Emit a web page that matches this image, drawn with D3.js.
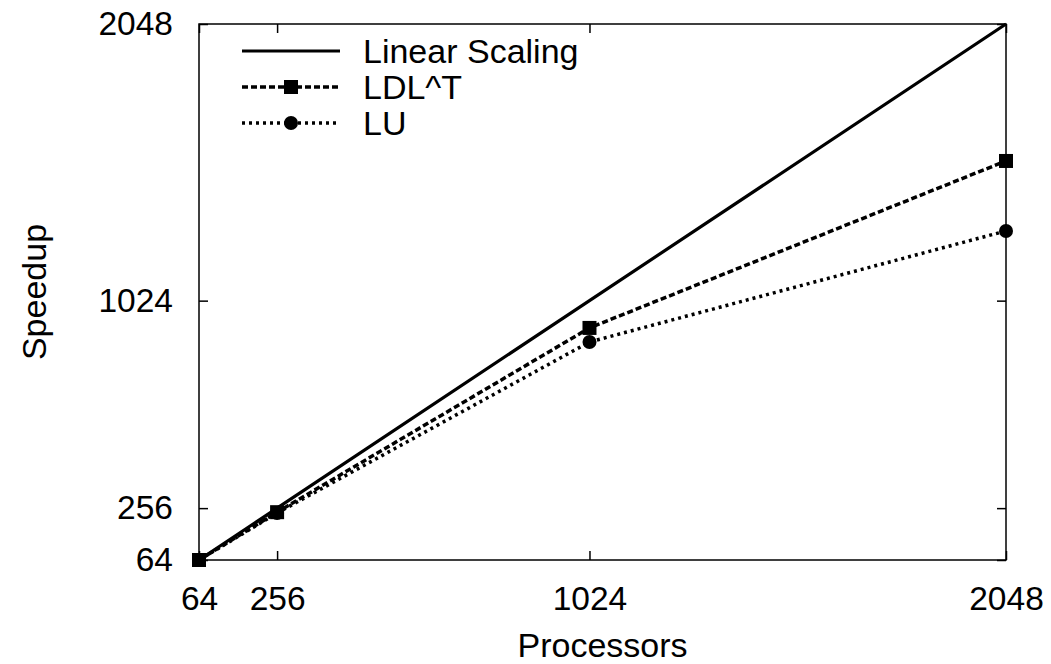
<!DOCTYPE html>
<html>
<head>
<meta charset="utf-8">
<script src="https://cdn.jsdelivr.net/npm/d3@7"></script>
<style>
  body { margin: 0; background: #fff; }
  svg text { font-family: "Liberation Sans", Arial, Helvetica, sans-serif; fill: #000; }
</style>
</head>
<body>
<div id="chart"></div>
<script>
const W = 1051;
const H = 664;
const M = { left: 199, right: 45, top: 24, bottom: 104 };

const procs = [64, 256, 1024, 2048];
const tickVals = [64, 256, 1024, 2048];
const linear = [64, 256, 1024, 2048];
const ldlt = [64, 241, 923, 1541];
const lu = [64, 238, 871, 1282];

const svg = d3.select('#chart')
  .append('svg')
  .attr('width', W)
  .attr('height', H);

const x = d3.scaleLinear().domain([64, 2048]).range([M.left, W - M.right]);
const y = d3.scaleLinear().domain([64, 2048]).range([H - M.bottom, M.top]);

const x0 = x.range()[0], x1 = x.range()[1];
const y0 = y.range()[0], y1 = y.range()[1];
const TICK = 9;
const fmt = d3.format('d');

// inward ticks on all four sides
const axisB = d3.axisBottom(x).tickValues(tickVals).tickFormat(fmt).tickSize(-TICK).tickPadding(26).tickSizeOuter(0);
const axisT = d3.axisTop(x).tickValues(tickVals).tickSize(-TICK).tickFormat('').tickSizeOuter(0);
const axisL = d3.axisLeft(y).tickValues(tickVals).tickFormat(fmt).tickSize(-TICK).tickPadding(26).tickSizeOuter(0);
const axisR = d3.axisRight(y).tickValues(tickVals).tickSize(-TICK).tickFormat('').tickSizeOuter(0);

function styleAxis(g) {
  g.attr('font-family', null).attr('font-size', null);
  g.select('.domain').remove();
  g.selectAll('line').attr('stroke', '#000').attr('stroke-width', 1.5);
  g.selectAll('text')
    .style('font-family', '"Liberation Sans", Arial, sans-serif')
    .style('font-size', '33.5px');
}

svg.append('g').attr('transform', `translate(0,${y0})`).call(axisB).call(styleAxis)
  .selectAll('text').attr('dy', '0.71em');
svg.append('g').attr('transform', `translate(0,${y1})`).call(axisT).call(styleAxis);
svg.append('g').attr('transform', `translate(${x0},0)`).call(axisL).call(styleAxis);
svg.append('g').attr('transform', `translate(${x1},0)`).call(axisR).call(styleAxis);

// frame
svg.append('rect')
  .attr('x', x0).attr('y', y1)
  .attr('width', x1 - x0).attr('height', y0 - y1)
  .attr('fill', 'none').attr('stroke', '#000').attr('stroke-width', 1.5);

const series = [
  { name: 'Linear Scaling', values: linear, dash: null, width: 3.2, marker: null },
  { name: 'LDL^T', values: ldlt, dash: '6,3', width: 3.5, marker: 'square' },
  { name: 'LU', values: lu, dash: '3,4', width: 3.5, marker: 'circle' }
];

const line = d3.line().x((d, i) => x(procs[i])).y(d => y(d));

function drawMarker(g, type, cx, cy) {
  if (type === 'square') {
    g.append('rect').attr('x', cx - 7).attr('y', cy - 7).attr('width', 14).attr('height', 14).attr('fill', '#000');
  } else if (type === 'circle') {
    g.append('circle').attr('cx', cx).attr('cy', cy).attr('r', 7).attr('fill', '#000');
  }
}

const plot = svg.append('g');
series.slice().reverse().forEach(s => {
  plot.append('path')
    .datum(s.values)
    .attr('d', line)
    .attr('fill', 'none')
    .attr('stroke', '#000')
    .attr('stroke-width', s.width)
    .attr('stroke-dasharray', s.dash);
  s.values.forEach((v, i) => drawMarker(plot, s.marker, x(procs[i]), y(v)));
});

// legend
const legend = svg.append('g');
series.forEach((s, i) => {
  const ly = 51 + i * 36;
  legend.append('line')
    .attr('x1', 242).attr('x2', 340).attr('y1', ly).attr('y2', ly)
    .attr('stroke', '#000').attr('stroke-width', s.width)
    .attr('stroke-dasharray', s.dash);
  drawMarker(legend, s.marker, 291, ly);
  legend.append('text')
    .attr('x', 363).attr('y', ly).attr('dy', '0.36em')
    .attr('font-size', 34)
    .text(s.name);
});

// axis titles
svg.append('text')
  .attr('x', (x0 + x1) / 2).attr('y', 657)
  .attr('text-anchor', 'middle')
  .attr('font-size', 34)
  .text('Processors');

svg.append('text')
  .attr('transform', `translate(46,${(y0 + y1) / 2}) rotate(-90)`)
  .attr('text-anchor', 'middle')
  .attr('font-size', 34)
  .text('Speedup');
</script>
</body>
</html>
